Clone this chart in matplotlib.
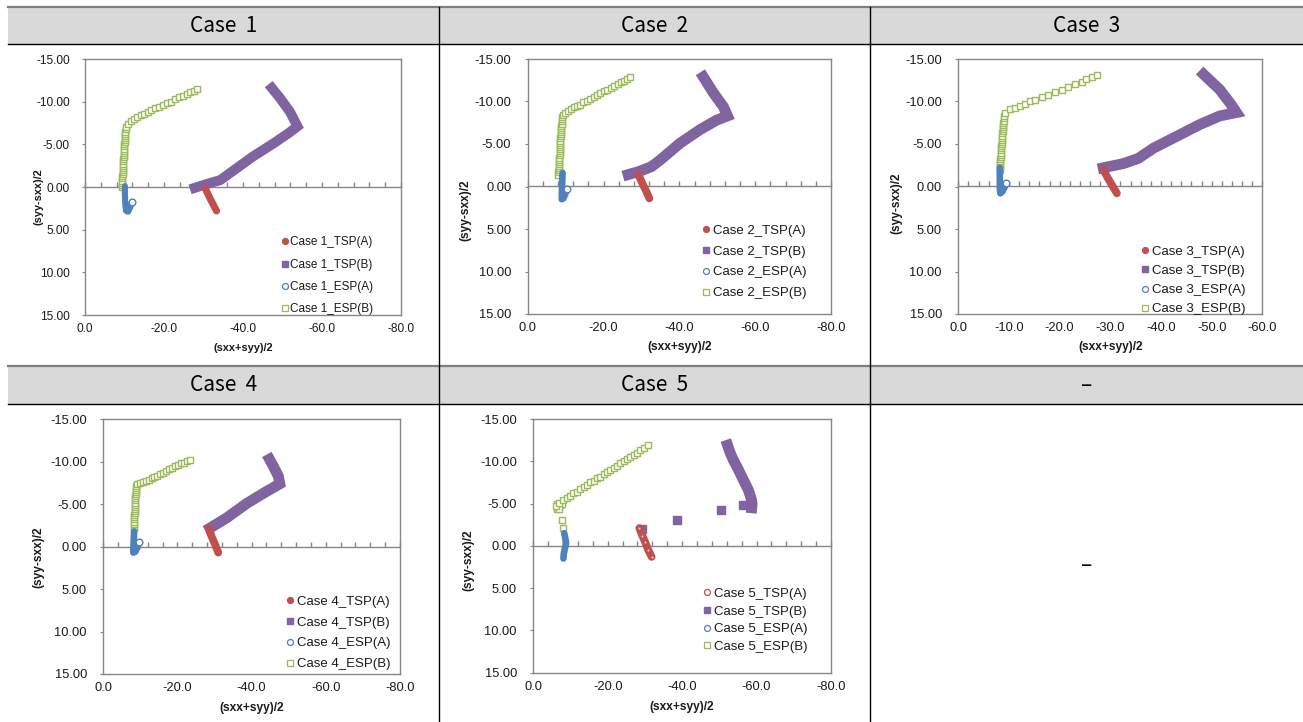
import numpy as np
import matplotlib.pyplot as plt
from matplotlib.lines import Line2D
from matplotlib.patches import Rectangle

plt.rcParams['font.family'] = ['Liberation Sans', 'DejaVu Sans']
plt.rcParams['axes.unicode_minus'] = False

nan = np.nan

# ---- data ----
cases = ['Case 1', 'Case 2', 'Case 3', 'Case 4', 'Case 5']
x_end = [-80, -80, -60, -80, -80]
x_major = [20, 20, 10, 20, 20]
x_minor = [4, 4, 2, 4, 4]
y_ticks = [-15, -10, -5, 0, 5, 10, 15]

# Case 1
c1_tspa_x = [-30.4, -31.4, -32.4, -33.3]
c1_tspa_y = [0.1, 1.1, 2.0, 2.8]
c1_tspb_x = [-27.8, -30.8, -34.2, -37.5, -42.6, -47.7, -51.5, -53.8, -51.9, -49.4, -47.3]
c1_tspb_y = [0.1, -0.35, -0.8, -1.9, -3.6, -5.1, -6.3, -7.1, -8.8, -10.4, -11.6]
c1_espa_x = [-10.1, -10.1, -10.2, -10.4, -10.9, -11.5, -11.9]
c1_espa_y = [-0.1, 0.9, 2.0, 2.8, 2.9, 2.3, 1.75]
c1_espb_x = [-9.3, -9.3, -9.35, -9.4, -9.4, -9.45, -9.5, -9.5, -9.55, -9.6, -9.6, -9.65, -9.7, -9.7, -9.75,
             -9.8, -9.8, -9.85, -9.9, -9.9, -9.95, -10.0, -10.0, -10.05, -10.1, -10.15, -10.2, -10.3, -10.4,
             -10.9, -11.6, -12.4, -13.2, -14.1, -15.0, -15.9, -16.8, -17.7, -18.7, -19.7, -20.7, -21.7,
             -22.7, -23.7, -24.7, -25.7, -26.7, -27.6, -28.3]
c1_espb_y = [0.0, -0.25, -0.5, -0.75, -1.0, -1.25, -1.5, -1.75, -2.0, -2.25, -2.5, -2.75, -3.0, -3.25, -3.5,
             -3.75, -4.0, -4.25, -4.5, -4.75, -5.0, -5.25, -5.5, -5.75, -6.0, -6.25, -6.5, -6.75, -7.0,
             -7.4, -7.7, -8.0, -8.2, -8.4, -8.6, -8.8, -9.0, -9.2, -9.4, -9.6, -9.8, -10.0,
             -10.3, -10.5, -10.7, -10.9, -11.1, -11.3, -11.5]

# Case 2
c2_tspa_x = [-29.2, -30.2, -31.2, -32.1]
c2_tspa_y = [-1.4, -0.4, 0.5, 1.4]
c2_tspb_x = [-26.5, -29.6, -32.7, -34.9, -40.2, -45.5, -49.8, -52.7, -51.6, -49.0, -46.3]
c2_tspb_y = [-1.4, -1.8, -2.35, -3.1, -5.1, -6.7, -7.8, -8.3, -9.4, -11.0, -12.9]
c2_espa_x = [-9.2, -9.1, -9.0, -9.0, -9.4, -9.9, -10.3]
c2_espa_y = [-1.6, -0.4, 0.8, 1.5, 1.4, 0.9, 0.3]
c2_espb_x = [-8.1, -8.1, -8.15, -8.2, -8.2, -8.25, -8.3, -8.3, -8.35, -8.4, -8.4, -8.45, -8.5, -8.5, -8.55,
             -8.6, -8.6, -8.65, -8.7, -8.7, -8.75, -8.8, -8.85, -8.9, -8.95, -9.0, -9.05, -9.1, -9.2,
             -9.9, -10.6, -11.4, -12.2, -13.0, -13.8, -14.7, -15.6, -16.5, -17.4, -18.3, -19.2, -20.1,
             -21.0, -21.9, -22.8, -23.7, -24.6, -25.5, -26.3, -27.0]
c2_espb_y = [-1.4, -1.65, -1.9, -2.15, -2.4, -2.65, -2.9, -3.15, -3.4, -3.65, -3.9, -4.15, -4.4, -4.65, -4.9,
             -5.15, -5.4, -5.65, -5.9, -6.15, -6.4, -6.65, -6.9, -7.15, -7.4, -7.65, -7.9, -8.15, -8.4,
             -8.7, -8.9, -9.1, -9.3, -9.45, -9.6, -9.9, -10.1, -10.35, -10.55, -10.8, -11.0, -11.2,
             -11.4, -11.6, -11.8, -12.0, -12.25, -12.45, -12.7, -12.9]

# Case 3
c3_tspa_x = [-28.6, -29.5, -30.4, -31.3]
c3_tspa_y = [-2.0, -1.0, -0.1, 0.8]
c3_tspb_x = [-28.6, -32.6, -35.5, -38.5, -43.1, -47.7, -51.6, -54.9, -53.9, -51.6, -48.4]
c3_tspb_y = [-2.2, -2.7, -3.3, -4.5, -5.9, -7.3, -8.3, -8.7, -9.6, -11.4, -13.2]
c3_espa_x = [-8.2, -8.2, -8.2, -8.3, -8.7, -9.1, -9.5]
c3_espa_y = [-2.2, -1.0, 0.2, 0.8, 0.6, 0.1, -0.4]
c3_espb_x = [-8.2, -8.2, -8.2, -8.25, -8.3, -8.3, -8.35, -8.4, -8.4, -8.45, -8.5, -8.5, -8.55, -8.6,
             -8.6, -8.65, -8.7, -8.7, -8.75, -8.8, -8.8, -8.85, -8.9, -8.95, -9.0, -9.1, -9.2,
             -10.2, -11.2, -12.2, -13.2, -14.1, -15.1, -16.5, -17.8, -19.1, -20.4, -21.7, -23.0,
             -24.4, -25.3, -26.3, -27.3]
c3_espb_y = [-2.0, -2.25, -2.5, -2.75, -3.0, -3.25, -3.5, -3.75, -4.0, -4.25, -4.5, -4.75, -5.0, -5.25,
             -5.5, -5.75, -6.0, -6.25, -6.5, -6.75, -7.0, -7.25, -7.5, -7.75, -8.0, -8.3, -8.7,
             -9.1, -9.25, -9.45, -9.7, -10.0, -10.2, -10.55, -10.8, -11.1, -11.4, -11.7, -12.0,
             -12.3, -12.6, -12.9, -13.15]

# Case 4
c4_tspa_x = [-28.3, -29.2, -30.1, -31.0]
c4_tspa_y = [-2.2, -1.2, -0.3, 0.7]
c4_tspb_x = [-28.8, -33.3, -38.7, -44.0, -47.6, -47.2, -45.8, -44.8]
c4_tspb_y = [-2.2, -3.4, -5.1, -6.5, -7.4, -8.3, -9.5, -10.3]
c4_espa_x = [-8.3, -8.2, -8.1, -8.1, -8.6, -9.2, -9.7]
c4_espa_y = [-1.8, -0.6, 0.3, 0.7, 0.6, 0.1, -0.5]
c4_espb_x = [-8.3, -8.3, -8.3, -8.35, -8.4, -8.4, -8.4, -8.45, -8.5, -8.5, -8.5, -8.55, -8.6, -8.6,
             -8.6, -8.65, -8.7, -8.7, -8.7, -8.75, -8.8,
             -9.0, -9.8, -10.6, -11.4, -12.2, -13.0, -13.8, -14.6, -15.4, -16.2, -17.0, -17.8,
             -18.6, -19.4, -20.2, -21.0, -21.8, -22.6, -23.4]
c4_espb_y = [-2.2, -2.45, -2.7, -2.95, -3.2, -3.45, -3.7, -3.95, -4.2, -4.45, -4.7, -4.95, -5.2, -5.45,
             -5.7, -5.95, -6.2, -6.45, -6.7, -6.95, -7.2,
             -7.4, -7.5, -7.6, -7.75, -7.9, -8.05, -8.2, -8.35, -8.5, -8.7, -8.9, -9.1,
             -9.3, -9.5, -9.6, -9.8, -9.9, -10.05, -10.2]

# Case 5 (nan separates the isolated points from the dense run)
c5_tspa_x = [-28.5, -29.3, -30.1, -30.9, -31.8]
c5_tspa_y = [-2.1, -1.2, -0.4, 0.5, 1.3]
c5_tspb_x = [-29.1, nan, -38.5, nan, -50.4, nan, -56.4, nan,
             -58.7, -58.8, -58.6, -57.8, -56.9, -56.0, -54.9, -53.8, -52.9, -52.2]
c5_tspb_y = [-2.05, nan, -3.0, nan, -4.2, nan, -4.8, nan,
             -4.5, -5.0, -5.5, -6.6, -7.4, -8.2, -9.2, -10.1, -11.0, -11.9]
c5_espa_x = [-8.3, -8.6, -8.8, -8.5, -8.2, -8.1]
c5_espa_y = [-1.5, -0.9, -0.3, 0.3, 0.9, 1.5]
c5_espb_x = [-8.1, -7.8, -6.3, -6.5, -6.4, -6.9, -7.3, -7.6, -6.8, -6.1, -7.0,
             -8.1, -9.0, -9.9, -10.8, -11.7, -12.6, -13.5, -14.4, -15.3, -16.2, -17.1, -18.0, -18.9,
             -19.8, -20.7, -21.6, -22.5, -23.4, -24.3, -25.2, -26.1, -27.0, -27.9, -28.8, -29.7, -30.9]
c5_espb_y = [-2.1, -3.0, -4.3, -4.6, -4.9, -4.7, -4.8, -5.0, -4.4, -4.7, -5.1,
             -5.4, -5.7, -5.9, -6.2, -6.4, -6.7, -6.9, -7.2, -7.5, -7.7, -8.0, -8.2, -8.5,
             -8.7, -9.0, -9.2, -9.5, -9.8, -10.0, -10.3, -10.5, -10.8, -11.0, -11.3, -11.6, -11.9]

tspa = [(c1_tspa_x, c1_tspa_y), (c2_tspa_x, c2_tspa_y), (c3_tspa_x, c3_tspa_y), (c4_tspa_x, c4_tspa_y), (c5_tspa_x, c5_tspa_y)]
tspb = [(c1_tspb_x, c1_tspb_y), (c2_tspb_x, c2_tspb_y), (c3_tspb_x, c3_tspb_y), (c4_tspb_x, c4_tspb_y), (c5_tspb_x, c5_tspb_y)]
espa = [(c1_espa_x, c1_espa_y), (c2_espa_x, c2_espa_y), (c3_espa_x, c3_espa_y), (c4_espa_x, c4_espa_y), (c5_espa_x, c5_espa_y)]
espb = [(c1_espb_x, c1_espb_y), (c2_espb_x, c2_espb_y), (c3_espb_x, c3_espb_y), (c4_espb_x, c4_espb_y), (c5_espb_x, c5_espb_y)]

# ---- style / layout ----
RED, PURPLE, BLUE, GREEN = '#C0504D', '#8064A2', '#4F81BD', '#9BBB59'
GRAY = '#868686'
TXT = '#1a1a1a'

W, H = 1303, 722
fig = plt.figure(figsize=(W / 100, H / 100), dpi=100)


def fx(px):
    return px / W


def fy(py):
    return 1 - py / H


# table: header bands and grid lines
for top, bot in [(7, 44), (366, 404)]:
    fig.add_artist(Rectangle((fx(8), fy(bot)), 1 - fx(8), fy(top) - fy(bot),
                             transform=fig.transFigure, facecolor='#d9d9d9', edgecolor='none', zorder=0))
    fig.add_artist(Line2D([fx(8), 1], [fy(top)] * 2, color='#7f7f7f', lw=1.6))
    fig.add_artist(Line2D([fx(8), 1], [fy(bot)] * 2, color='black', lw=1.0))
for xv in [439, 870]:
    fig.add_artist(Line2D([fx(xv)] * 2, [fy(7), 0], color='black', lw=1.0))

col_cx = [223.5, 654.5, 1086.5]
head_cy = [25.5, 385]
titles = [c.replace(' ', '  ') for c in cases] + ['–']
for k, title in enumerate(titles):
    fig.text(fx(col_cx[k % 3]), fy(head_cy[k // 3]), title, ha='center', va='center',
             fontsize=15, family=['Noto Sans CJK KR', 'DejaVu Sans'], color='black')
fig.text(fx(1086.5), fy(565), '–', ha='center', va='center', fontsize=15,
         family=['Noto Sans CJK KR', 'DejaVu Sans'], color='black')

axes_px = [(85, 59, 401, 315), (527.7, 59, 831, 314), (958.3, 59, 1262.3, 314),
           (103.3, 419.3, 400, 674), (533.3, 419, 831, 672.7)]
xlab_y = [348, 346.7, 347.3, 708, 706.7]
ylab_xy = [(38, 197), (465, 210), (896, 203), (38.3, 556.7), (468.3, 560)]
leg_px = [(285, 241), (706, 229), (1145, 250), (290, 600), (707, 592)]
leg_space = [0.87, 0.65, 0.53, 0.65, 0.42]
scale = [0.92, 1, 1, 1, 1]

for i, case in enumerate(cases):
    l, t, r, b = axes_px[i]
    s = scale[i]
    ax = fig.add_axes([fx(l), fy(b), (r - l) / W, (b - t) / H])
    ax.set_xlim(0, x_end[i])
    ax.set_ylim(15, -15)
    for sp in ax.spines.values():
        sp.set_color(GRAY)
        sp.set_linewidth(1.0)

    ax.set_xticks(np.arange(0, x_end[i] - 1, -x_major[i]))
    ax.set_yticks(y_ticks)
    ax.xaxis.set_major_formatter('{x:.1f}')
    ax.yaxis.set_major_formatter('{x:.2f}')
    ax.tick_params(axis='x', length=0, pad=6.0 * s, labelsize=9.3 * s, labelcolor=TXT)
    ax.tick_params(axis='y', length=2.5, color=GRAY, pad=9.3 * s, labelsize=9.3 * s, labelcolor=TXT)

    # horizontal axis line at y = 0 with small ticks
    sec = ax.secondary_xaxis(0.5)
    sec.set_xticks(np.arange(0, x_end[i] - 1, -x_minor[i]))
    sec.tick_params(axis='x', which='both', direction='out', length=3.5, width=1.0, color=GRAY,
                    labeltop=False, labelbottom=False)
    for sp in sec.spines.values():
        sp.set_color(GRAY)
        sp.set_linewidth(1.0)

    # series
    xa, ya = tspa[i]
    xb, yb = tspb[i]
    xc, yc = espa[i]
    xd, yd = espb[i]

    ax.plot(xd, yd, ls='none', marker='s', ms=4.6 * s, mfc='white', mec=GREEN, mew=1.0, zorder=3)
    ax.plot(xc, yc, color=BLUE, lw=4.8 * s, solid_capstyle='round', solid_joinstyle='round', zorder=3)
    if i < 4:
        ax.plot(xc[-1:], yc[-1:], ls='none', marker='o', ms=4.8, mfc='white', mec=BLUE, mew=1.0, zorder=3)
    ax.plot(xb, yb, color=PURPLE, lw=7.8 * s, solid_capstyle='projecting', solid_joinstyle='miter', zorder=4)
    # single points (cut off by nan on both sides) get their own square marker
    yb_arr = np.asarray(yb, dtype=float)
    padded = np.concatenate([[nan], yb_arr, [nan]])
    lone = np.isfinite(yb_arr) & np.isnan(padded[:-2]) & np.isnan(padded[2:])
    if lone.any():
        ax.plot(np.asarray(xb)[lone], yb_arr[lone], ls='none', marker='s', ms=5.6, color=PURPLE, zorder=4)
    ax.plot(xa, ya, color=RED, lw=5.6 * s, solid_capstyle='round', solid_joinstyle='round', zorder=5)
    if i == 4:
        ax.plot(xa, ya, ls='none', marker='o', ms=2.0, mfc='#f2d4d3', mec=RED, mew=0.5, zorder=5)

    # axis titles
    fig.text(fx((l + r) / 2), fy(xlab_y[i]), '(sxx+syy)/2', ha='center', va='center',
             fontsize=8.6 * s, fontweight='bold', color=TXT)
    fig.text(fx(ylab_xy[i][0]), fy(ylab_xy[i][1]), '(syy-sxx)/2', ha='center', va='center',
             rotation=90, fontsize=8.6 * s, fontweight='bold', color=TXT)

    # legend
    handles = [
        Line2D([], [], ls='none', marker='o', ms=4.3, color=RED,
               mfc='white' if i == 4 else RED, mew=0.9),
        Line2D([], [], ls='none', marker='s', ms=4.3, color=PURPLE),
        Line2D([], [], ls='none', marker='o', ms=4.3, mfc='white', mec=BLUE, mew=0.9),
        Line2D([], [], ls='none', marker='s', ms=4.3, mfc='white', mec=GREEN, mew=0.9),
    ]
    labels = [f'{case}_TSP(A)', f'{case}_TSP(B)', f'{case}_ESP(A)', f'{case}_ESP(B)']
    mx, my = leg_px[i]
    leg = ax.legend(handles, labels, loc='upper left', bbox_to_anchor=(fx(mx - 4), fy(my - 4.5)),
                    bbox_transform=fig.transFigure, frameon=False, fontsize=9.5 * s * (0.97 if i == 0 else 1),
                    handlelength=0.6, handletextpad=0.2, labelspacing=leg_space[i],
                    borderpad=0, borderaxespad=0)
    for txt in leg.get_texts():
        txt.set_color(TXT)

fig.savefig('out.png', dpi=100)
